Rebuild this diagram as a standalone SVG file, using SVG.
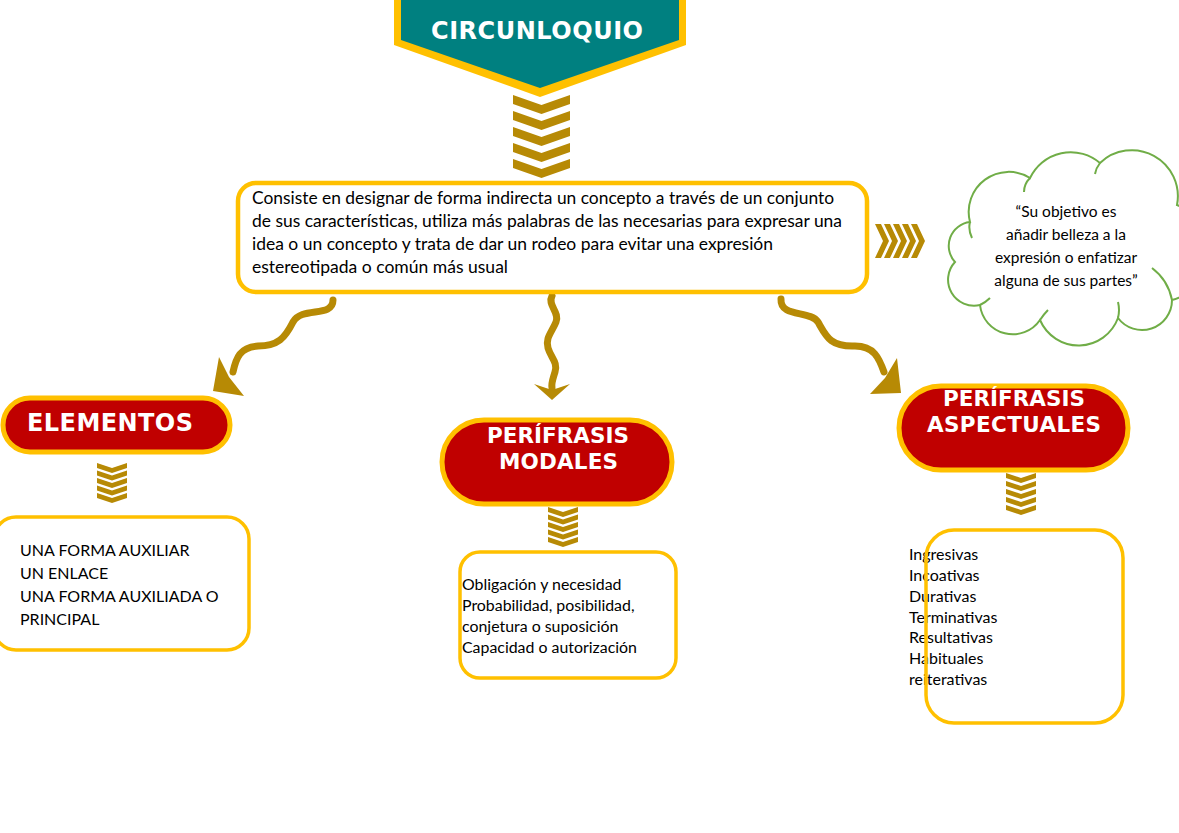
<svg xmlns="http://www.w3.org/2000/svg" xmlns:xlink="http://www.w3.org/1999/xlink" width="1179" height="833" viewBox="0 0 1179 833">
<defs>
<style>
.gold{fill:#B78A05;}
.box{fill:#FFFFFF;stroke:#FFC000;}
.pill{fill:#C00000;stroke:#FFC000;stroke-width:5;}
.title{font-family:"DejaVu Sans","Liberation Sans",sans-serif;font-weight:bold;fill:#FFFFFF;}
.txt{font-family:Lato,"Liberation Sans",sans-serif;fill:#000000;}
.wave{fill:none;stroke:#B78A05;stroke-width:7;stroke-linecap:round;}
</style>
<polygon id="chevBig" points="0,0 28.5,10 57,0 57,9 28.5,19 0,9"/>
<polygon id="chevSmall" points="0,0 15,5 30,0 30,5 15,10 0,5"/>
<polygon id="chevRight" points="0,0 8,17 0,34 6,34 14,17 6,0"/>
</defs>
<rect x="0" y="0" width="1179" height="833" fill="#FFFFFF"/>

<g id="connectors">
  <g class="gold">
    <use xlink:href="#chevBig" x="513" y="95"/>
    <use xlink:href="#chevBig" x="513" y="111"/>
    <use xlink:href="#chevBig" x="513" y="127"/>
    <use xlink:href="#chevBig" x="513" y="143"/>
    <use xlink:href="#chevBig" x="513" y="159"/>

    <use xlink:href="#chevRight" x="875" y="224"/>
    <use xlink:href="#chevRight" x="884" y="224"/>
    <use xlink:href="#chevRight" x="893" y="224"/>
    <use xlink:href="#chevRight" x="902" y="224"/>
    <use xlink:href="#chevRight" x="911" y="224"/>

    <use xlink:href="#chevSmall" x="97" y="463"/>
    <use xlink:href="#chevSmall" x="97" y="470.5"/>
    <use xlink:href="#chevSmall" x="97" y="478"/>
    <use xlink:href="#chevSmall" x="97" y="485.5"/>
    <use xlink:href="#chevSmall" x="97" y="493"/>

    <use xlink:href="#chevSmall" x="548" y="507"/>
    <use xlink:href="#chevSmall" x="548" y="514.5"/>
    <use xlink:href="#chevSmall" x="548" y="522"/>
    <use xlink:href="#chevSmall" x="548" y="529.5"/>
    <use xlink:href="#chevSmall" x="548" y="537"/>

    <use xlink:href="#chevSmall" x="1006" y="473"/>
    <use xlink:href="#chevSmall" x="1006" y="481"/>
    <use xlink:href="#chevSmall" x="1006" y="489"/>
    <use xlink:href="#chevSmall" x="1006" y="497"/>
    <use xlink:href="#chevSmall" x="1006" y="505"/>
  </g>
  <path class="wave" d="M333,300 C333,318 302,306 293,322 C285,338 278,346 258,346 C240,347 236,358 233,372"/>
  <polygon class="gold" points="213,391 219,357 229,377 244,396"/>
  <path class="wave" d="M552,296 C547,305 560,312 556,322 C552,332 545,338 548,348 C551,358 558,362 555,372 C553,379 551,383 552,388"/>
  <polygon class="gold" points="552,400 534,384 552,390 570,384"/>
  <path class="wave" d="M781,299 C780,318 810,310 818,322 C826,336 830,347 855,346 C874,346 879,358 884,372"/>
  <polygon class="gold" points="901,393 897,358 885,378 870,394"/>
</g>

<g id="node-circunloquio">
  <polygon points="394,-10 686,-10 686,45 540,97 394,45" fill="#FFC000"/>
  <polygon points="401,-10 679,-10 679,40 540,88 401,40" fill="#008080"/>
  <text class="title" x="431" y="39" font-size="24" textLength="212" lengthAdjust="spacing">CIRCUNLOQUIO</text>
</g>

<g id="node-definicion">
  <rect class="box" x="238" y="183" width="629" height="109" rx="18" stroke-width="4.5"/>
  <g class="txt" font-size="17">
    <text x="252" y="204" textLength="582" lengthAdjust="spacingAndGlyphs">Consiste en designar de forma indirecta un concepto a través de un conjunto</text>
    <text x="252" y="227" textLength="590" lengthAdjust="spacingAndGlyphs">de sus características, utiliza más palabras de las necesarias para expresar una</text>
    <text x="252" y="250" textLength="521" lengthAdjust="spacingAndGlyphs">idea o un concepto y trata de dar un rodeo para evitar una expresión</text>
    <text x="252" y="273" textLength="256" lengthAdjust="spacingAndGlyphs">estereotipada o común más usual</text>
  </g>
</g>

<g id="node-objetivo">
  <path d="M970,222 A40,40 0 0 1 1030,178 A45,45 0 0 1 1100,163 A46,46 0 0 1 1177,205 A50,50 0 0 1 1172,300 A30,30 0 0 1 1118,318 A42,42 0 0 1 1040,320 A33,33 0 0 1 980,305 A26,26 0 0 1 955,262 A24,24 0 0 1 970,222 Z" fill="#FFFFFF" stroke="#70AD47" stroke-width="2"/>
  <path d="M970,222 Q968,230 972,238 M1030,178 Q1024,184 1024,192 M1100,163 Q1096,168 1095,174 M1172,300 Q1168,280 1152,268 M1118,318 Q1120,310 1118,302 M1040,320 Q1044,314 1048,310 M980,305 Q986,302 990,298" fill="none" stroke="#70AD47" stroke-width="2"/>
  <g class="txt" font-size="15.5" text-anchor="middle">
    <text x="1066" y="217">“Su objetivo es</text>
    <text x="1066" y="240">añadir belleza a la</text>
    <text x="1066" y="263">expresión o enfatizar</text>
    <text x="1066" y="286">alguna de sus partes”</text>
  </g>
</g>

<g id="node-elementos">
  <rect class="pill" x="3" y="398" width="227" height="54" rx="27"/>
  <text class="title" x="27" y="431" font-size="24" textLength="166" lengthAdjust="spacing">ELEMENTOS</text>
</g>

<g id="node-elementos-lista">
  <rect class="box" x="-6" y="517" width="255" height="133" rx="22" stroke-width="3.5"/>
  <g class="txt" font-size="16">
    <text x="20" y="556">UNA FORMA AUXILIAR</text>
    <text x="20" y="579">UN ENLACE</text>
    <text x="20" y="602">UNA FORMA AUXILIADA O</text>
    <text x="20" y="625">PRINCIPAL</text>
  </g>
</g>

<g id="node-modales">
  <rect class="pill" x="442" y="420" width="230" height="84" rx="42"/>
  <text class="title" x="487" y="443" font-size="21.5" textLength="142" lengthAdjust="spacing">PERÍFRASIS</text>
  <text class="title" x="499" y="469" font-size="21.5" textLength="119" lengthAdjust="spacing">MODALES</text>
</g>

<g id="node-modales-lista">
  <rect class="box" x="460" y="552" width="216" height="126" rx="20" stroke-width="3.5"/>
  <g class="txt" font-size="15.9">
    <text x="462" y="590">Obligación y necesidad</text>
    <text x="462" y="611">Probabilidad, posibilidad,</text>
    <text x="462" y="632">conjetura o suposición</text>
    <text x="462" y="653">Capacidad o autorización</text>
  </g>
</g>

<g id="node-aspectuales">
  <rect class="pill" x="899" y="386" width="229" height="84" rx="42"/>
  <text class="title" x="943" y="406" font-size="21.5" textLength="142" lengthAdjust="spacing">PERÍFRASIS</text>
  <text class="title" x="927" y="432" font-size="21.5" textLength="174" lengthAdjust="spacing">ASPECTUALES</text>
</g>

<g id="node-aspectuales-lista">
  <g class="txt" font-size="16">
    <text x="909" y="560">Ingresivas</text>
    <text x="909" y="581">Incoativas</text>
    <text x="909" y="602">Durativas</text>
    <text x="909" y="623">Terminativas</text>
    <text x="909" y="643">Resultativas</text>
    <text x="909" y="664">Habituales</text>
    <text x="909" y="685">reiterativas</text>
  </g>
  <rect x="926" y="530" width="197" height="193" rx="28" fill="none" stroke="#FFC000" stroke-width="3.5"/>
</g>
</svg>
